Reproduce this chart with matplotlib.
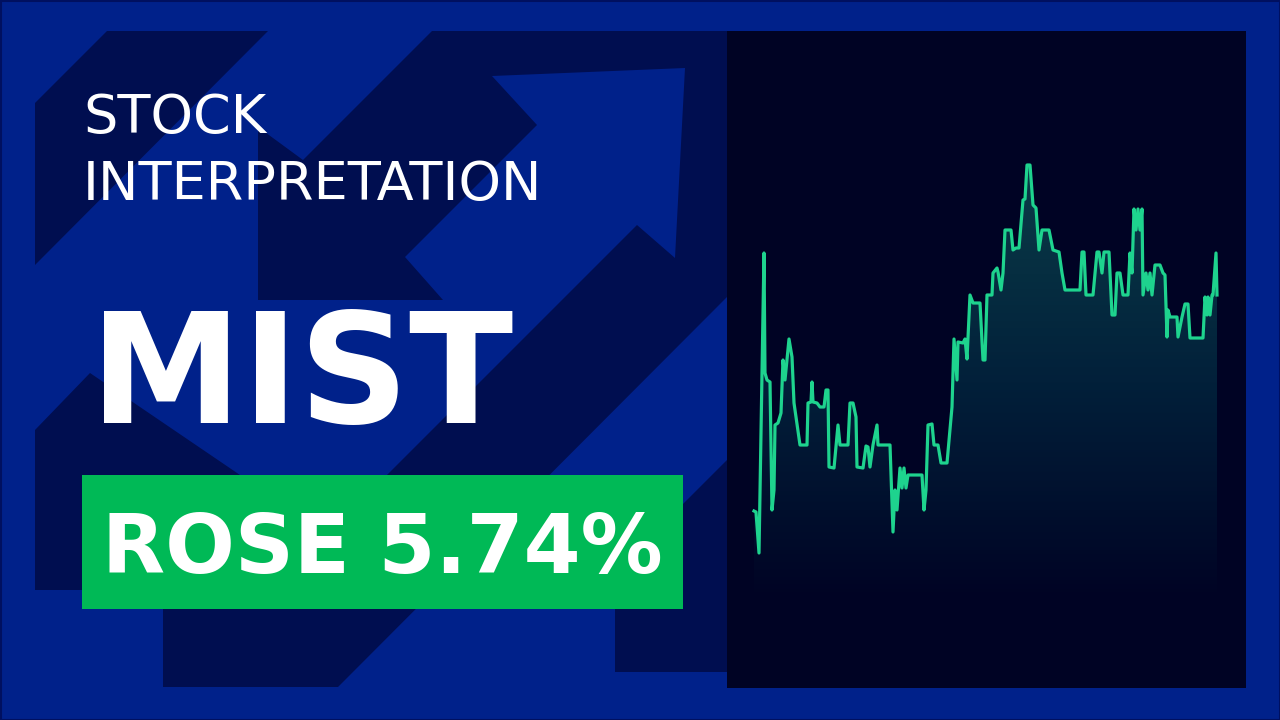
import numpy as np
import matplotlib.pyplot as plt
from matplotlib.patches import Polygon, Rectangle
from matplotlib.colors import LinearSegmentedColormap

# ticker / headline
ticker = 'MIST'
header = ['STOCK', 'INTERPRETATION']
change_label = 'ROSE 5.74%'

# price path (day index, price)
days = [4, 6, 9, 14, 15, 17, 20, 22, 24, 25, 28, 31, 33, 35, 37, 39, 42, 44, 50, 57,
        58, 61, 62, 63, 67, 70, 74, 76, 78, 79, 84, 88, 90, 98, 100, 103, 106, 107, 113, 116,
        118, 120, 123, 127, 128, 140, 143, 145, 147, 150, 152, 154, 156, 158, 172, 174, 176, 178, 182, 184,
        188, 191, 197, 202, 204, 207, 208, 213, 215, 217, 220, 223, 230, 233, 235, 237, 242, 243, 247, 248,
        251, 253, 255, 261, 263, 266, 269, 273, 275, 277, 280, 283, 286, 289, 292, 299, 303, 309, 312, 315,
        330, 332, 334, 336, 343, 347, 349, 352, 354, 359, 362, 365, 367, 370, 373, 378, 380, 382, 384, 386,
        388, 390, 392, 393, 396, 398, 400, 402, 405, 410, 413, 415, 417, 418, 420, 427, 428, 432, 435, 438,
        440, 453, 455, 457, 458, 460, 462, 463, 466, 467]
prices = [8.9, 8.8, 4.7, 34.7, 22.7, 22.0, 21.8, 9.0, 11.0, 17.5, 17.7, 18.7, 24.0, 22.0, 24.0, 26.1, 24.3, 19.7, 15.5, 15.5,
          19.7, 19.8, 21.8, 19.8, 19.7, 19.3, 19.3, 21.0, 21.0, 13.3, 13.2, 17.5, 15.5, 15.5, 19.7, 19.7, 18.3, 13.3, 13.2, 15.4,
          15.3, 13.3, 15.5, 17.5, 15.5, 15.5, 6.8, 11.0, 9.0, 13.2, 11.2, 13.2, 11.2, 12.5, 12.5, 9.0, 11.0, 17.5, 17.6, 15.5,
          15.5, 13.7, 13.7, 19.3, 26.1, 22.0, 25.8, 25.7, 26.1, 24.1, 30.5, 29.7, 29.7, 24.0, 24.0, 30.5, 30.5, 32.7, 33.2, 32.8,
          31.0, 32.7, 37.0, 37.0, 35.0, 35.2, 35.2, 40.0, 40.1, 43.5, 43.5, 39.5, 39.2, 35.0, 37.0, 37.0, 35.0, 34.8, 32.7, 31.0,
          31.0, 34.8, 34.8, 30.5, 30.5, 34.8, 34.8, 32.7, 34.8, 34.8, 28.5, 28.5, 32.7, 32.7, 30.5, 30.5, 34.7, 32.7, 39.1, 37.0,
          39.1, 37.0, 39.1, 30.5, 32.7, 31.0, 32.7, 30.5, 33.5, 33.5, 32.7, 32.5, 26.3, 29.0, 28.3, 28.3, 26.3, 28.3, 29.6, 29.6,
          26.2, 26.2, 30.3, 28.5, 30.3, 28.5, 30.5, 30.5, 34.7, 30.5]

BLUE = '#00218a'
NAVY = '#000e50'
PANEL = '#000324'
GREEN = '#00b956'
LINE = '#1ed38e'

fig = plt.figure(figsize=(12.8, 7.2), dpi=100)
fig.patch.set_facecolor(BLUE)

# decorative background (pixel space)
bg = fig.add_axes([0, 0, 1, 1])
bg.set_xlim(0, 1280)
bg.set_ylim(720, 0)
bg.axis('off')
shapes = [
    [(35, 103), (107, 31), (268, 31), (35, 265)],
    [(432, 31), (727, 31), (727, 297), (338, 687), (163, 687), (163, 560), (387, 475),
     (637, 225), (675, 258), (685, 68), (492, 76), (537, 125), (405, 257), (443, 300),
     (258, 300), (258, 127), (303, 160)],
    [(35, 430), (90, 373), (240, 475), (240, 590), (35, 590)],
    [(727, 460), (727, 672), (615, 672), (615, 572)],
]
for s in shapes:
    bg.add_patch(Polygon(s, closed=True, facecolor=NAVY, edgecolor='none'))
bg.add_patch(Rectangle((0.5, 0.5), 1279, 719, facecolor='none', edgecolor='#001060', lw=1.5))
bg.add_patch(Rectangle((82, 475), 601, 134, facecolor=GREEN, edgecolor='none'))

fig.text(83 / 1280, 1 - 133 / 720, header[0], color='white', fontsize=39, va='baseline')
fig.text(83 / 1280, 1 - 200 / 720, header[1], color='white', fontsize=39, va='baseline')
fig.text(90 / 1280, 1 - 423 / 720, ticker, color='white', fontsize=110,
         fontweight='bold', va='baseline')
fig.text(382.5 / 1280, 1 - 542 / 720, change_label, color='white', fontsize=59,
         fontweight='bold', ha='center', va='center_baseline')

# chart panel
ax = fig.add_axes([727 / 1280, 32 / 720, 519 / 1280, 657 / 720])
ax.set_facecolor(PANEL)
for sp in ax.spines.values():
    sp.set_visible(False)
ax.set_xticks([])
ax.set_yticks([])

base = -8.8
fill = ax.fill_between(days, prices, base, color='none')
cmap = LinearSegmentedColormap.from_list('fade', [PANEL, '#02203a', '#0a3c48'])
grad = np.linspace(0, 1, 256).reshape(-1, 1)
img = ax.imshow(grad, extent=[days[0], days[-1], 0, max(prices)], origin='lower',
                cmap=cmap, aspect='auto', zorder=1)
img.set_clip_path(fill.get_paths()[0], transform=ax.transData)
ax.set_xlim(-23, 496)
ax.set_ylim(-8.8, 56.9)

ax.plot(days, prices, color=LINE, lw=2.3, zorder=3)

fig.savefig('out.png', dpi=100, facecolor=fig.get_facecolor())
